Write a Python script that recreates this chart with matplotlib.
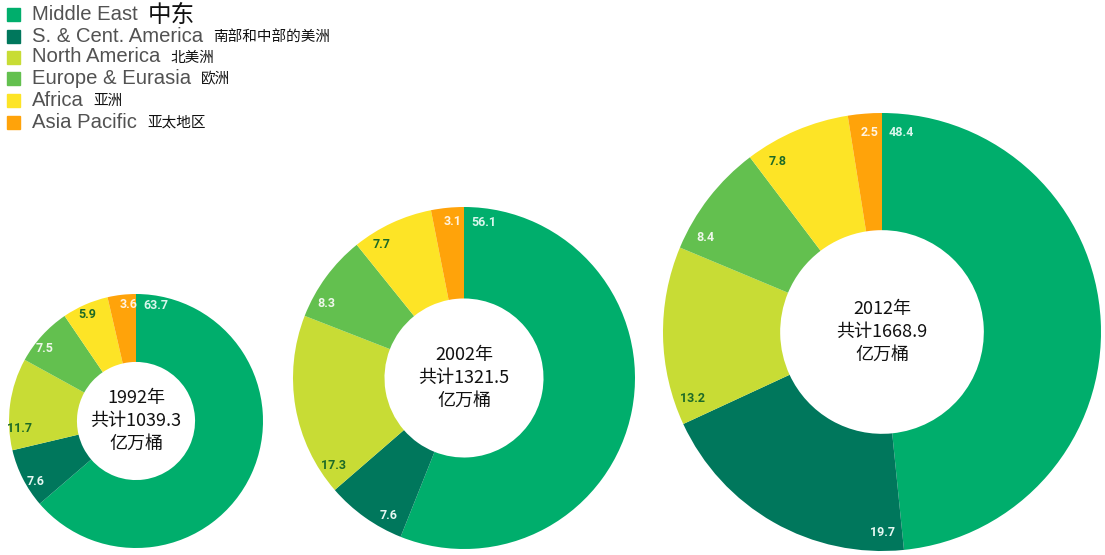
import matplotlib
matplotlib.use("Agg")
import matplotlib.pyplot as plt
import numpy as np
from matplotlib.patches import Rectangle

W, H = 1105, 555

regions_en = ["Middle East", "S. & Cent. America", "North America",
              "Europe & Eurasia", "Africa", "Asia Pacific"]
regions_cn = ["中东", "南部和中部的美洲", "北美洲", "欧洲", "亚洲", "亚太地区"]
colors = ["#00ae6c", "#00775c", "#c8dc35", "#63c04f", "#fde426", "#ffa30a"]
label_colors = ["#d8f6ec", "#e6f7f2", "#1d6a27", "#eef7ea", "#1d6a27", "#fff3e0"]

years = ["1992", "2002", "2012"]
totals = ["1039.3", "1321.5", "1668.9"]
share_1992 = [63.7, 7.6, 11.7, 7.5, 5.9, 3.6]
share_2002 = [56.1, 7.6, 17.3, 8.3, 7.7, 3.1]
share_2012 = [48.4, 19.7, 13.2, 8.4, 7.8, 2.5]
shares = [share_1992, share_2002, share_2012]

# donut centres and outer radius, in pixels
donuts = [(136, 421, 127), (464, 378, 171), (882, 332, 219)]

cjk = ["Noto Sans CJK SC", "DejaVu Sans"]

fig = plt.figure(figsize=(W / 100, H / 100), dpi=100)

for (cx, cy, R), vals, yr, tot in zip(donuts, shares, years, totals):
    ax = fig.add_axes([(cx - R) / W, (H - cy - R) / H, 2 * R / W, 2 * R / H])
    ax.pie(vals, colors=colors, startangle=90, counterclock=False, radius=1,
           wedgeprops=dict(width=0.535, linewidth=0))
    ax.set_xlim(-1, 1)
    ax.set_ylim(-1, 1)
    ax.axis("off")

    # value labels sit just past the start edge of each wedge
    starts = np.concatenate([[0], np.cumsum(vals)[:-1]]) / sum(vals) * 360
    for th, v, lc in zip(starts, vals, label_colors):
        t = np.radians(th)
        r = 0.91
        xy = (r * np.sin(t), r * np.cos(t))
        tang = (np.cos(t), -np.sin(t))
        off = 14
        ax.annotate(f"{v:.1f}", xy=xy, xytext=(tang[0] * off, tang[1] * off),
                    textcoords="offset points", ha="center", va="center",
                    fontsize=9, fontweight="bold", family="Roboto", color=lc)

    ax.text(0, 0, f"{yr}年\n共计{tot}\n亿万桶", ha="center", va="center",
            fontsize=13, family=cjk, color="#111111", linespacing=1.38)

# legend
row_y = [14, 36, 57, 78, 100, 122]
cn_sizes = [17, 10.5, 10.5, 10.5, 10.5, 10.5]
fig.canvas.draw()
renderer = fig.canvas.get_renderer()
for y, en, cn, c, cs in zip(row_y, regions_en, regions_cn, colors, cn_sizes):
    fig.patches.append(Rectangle((7 / W, (H - y - 7) / H), 13 / W, 13 / H,
                                 transform=fig.transFigure, color=c, figure=fig))
    t = fig.text(32 / W, (H - y) / H, en, ha="left", va="center",
                 fontsize=14.6, family="Liberation Sans", color="#525252")
    bb = t.get_window_extent(renderer)
    fig.text((bb.x1 + 10) / W, (H - y - 1) / H, cn, ha="left", va="center",
             fontsize=cs, family=cjk, color="#111111")

fig.savefig("out.png", dpi=100)
